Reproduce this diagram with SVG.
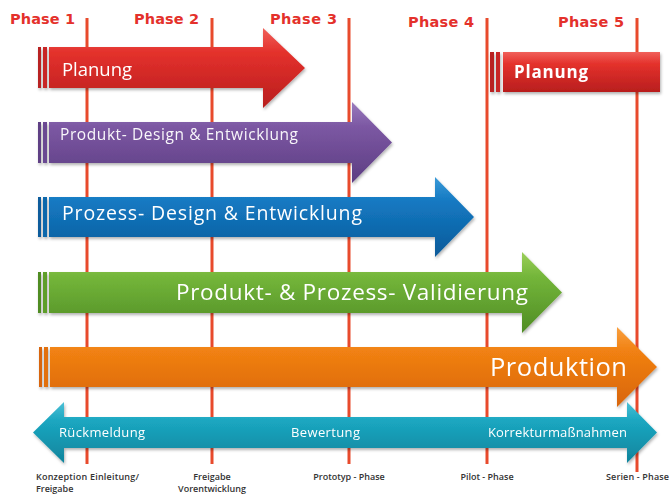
<svg xmlns="http://www.w3.org/2000/svg" width="669" height="494" viewBox="0 0 669 494">
<defs>
<linearGradient id="gRed" x1="0" y1="0" x2="0" y2="1"><stop offset="0" stop-color="#f0605a"/><stop offset="0.3" stop-color="#e4312c"/><stop offset="1" stop-color="#b81e1e"/></linearGradient>
<linearGradient id="gPur" x1="0" y1="0" x2="0" y2="1"><stop offset="0" stop-color="#9a7bbd"/><stop offset="0.3" stop-color="#7c58a3"/><stop offset="1" stop-color="#5c3c82"/></linearGradient>
<linearGradient id="gBlu" x1="0" y1="0" x2="0" y2="1"><stop offset="0" stop-color="#3a9ad8"/><stop offset="0.3" stop-color="#1479c2"/><stop offset="1" stop-color="#0b5a99"/></linearGradient>
<linearGradient id="gGrn" x1="0" y1="0" x2="0" y2="1"><stop offset="0" stop-color="#9ccf5a"/><stop offset="0.3" stop-color="#74b63a"/><stop offset="1" stop-color="#4f8c24"/></linearGradient>
<linearGradient id="gOrg" x1="0" y1="0" x2="0" y2="1"><stop offset="0" stop-color="#f9a040"/><stop offset="0.3" stop-color="#f18112"/><stop offset="1" stop-color="#d8650a"/></linearGradient>
<linearGradient id="gCya" x1="0" y1="0" x2="0" y2="1"><stop offset="0" stop-color="#4cc0d6"/><stop offset="0.3" stop-color="#1ba7c1"/><stop offset="1" stop-color="#0f849c"/></linearGradient>
<filter id="sh" x="-5%" y="-20%" width="110%" height="150%"><feDropShadow dx="1" dy="2" stdDeviation="1.5" flood-color="#000" flood-opacity="0.3"/></filter>
</defs>
<style>
.ph{font-family:"DejaVu Sans",Verdana,sans-serif;font-weight:bold;font-size:14.5px;fill:#e4312b}
.vl{stroke:#e84a2c;stroke-width:3}
.lbl{font-family:"Open Sans","Noto Sans",sans-serif;fill:#ffffff}
.bot{font-family:"Open Sans","Liberation Sans",sans-serif;font-weight:600;font-size:9px;fill:#333}
</style>
<rect width="669" height="494" fill="#ffffff"/>
<g id="phases">
<text class="ph" x="10" y="24" textLength="65">Phase 1</text>
<text class="ph" x="134" y="24" textLength="65">Phase 2</text>
<text class="ph" x="270" y="24" textLength="67">Phase 3</text>
<text class="ph" x="408" y="27" textLength="66">Phase 4</text>
<text class="ph" x="558" y="27" textLength="66">Phase 5</text>
</g>
<g id="lines">
<line class="vl" x1="87" y1="18" x2="87" y2="464"/>
<line class="vl" x1="212" y1="18" x2="212" y2="464"/>
<line class="vl" x1="349" y1="18" x2="349" y2="464"/>
<line class="vl" x1="487" y1="18" x2="487" y2="464"/>
<line class="vl" x1="637" y1="18" x2="637" y2="472"/>
</g>
<g id="planung1" filter="url(#sh)">
<rect x="38" y="47" width="3" height="41" fill="#b82222"/>
<rect x="43" y="47" width="4" height="41" fill="#c82828"/>
<path d="M49,47 H263 V28 L305,68 L263,108 V88 H49 Z" fill="url(#gRed)"/>
<text class="lbl" x="62" y="76" font-size="18.5" textLength="70">Planung</text>
</g>
<g id="planung2" filter="url(#sh)">
<rect x="490" y="52" width="4" height="40" fill="#b82222"/>
<rect x="496" y="52" width="4" height="40" fill="#c82828"/>
<path d="M503,52 H660 V92 H503 Z" fill="url(#gRed)"/>
<text class="lbl" x="514" y="78" font-size="17" font-weight="bold" textLength="74">Planung</text>
</g>
<g id="produkt-design" filter="url(#sh)">
<rect x="38" y="122" width="3" height="41" fill="#5e3f85"/>
<rect x="43" y="122" width="4" height="41" fill="#6a4a92"/>
<path d="M49,122 H352 V102 L392,142.5 L352,183 V163 H49 Z" fill="url(#gPur)"/>
<text class="lbl" x="60" y="140" font-size="15.5" textLength="238" fill-opacity="0.95">Produkt- Design &amp; Entwicklung</text>
</g>
<g id="prozess-design" filter="url(#sh)">
<rect x="38" y="197" width="3" height="40" fill="#0c5c9c"/>
<rect x="43" y="197" width="4" height="40" fill="#1068ac"/>
<path d="M49,197 H435 V177 L474,217 L435,257 V237 H49 Z" fill="url(#gBlu)"/>
<text class="lbl" x="62" y="220" font-size="19.5" textLength="300">Prozess- Design &amp; Entwicklung</text>
</g>
<g id="validierung" filter="url(#sh)">
<rect x="38" y="272" width="3" height="41" fill="#4f8c24"/>
<rect x="43" y="272" width="4" height="41" fill="#5e9e2c"/>
<path d="M49,272 H522 V252 L562,292.5 L522,333 V313 H49 Z" fill="url(#gGrn)"/>
<text class="lbl" x="176" y="300" font-size="22.5" textLength="352">Produkt- &amp; Prozess- Validierung</text>
</g>
<g id="produktion" filter="url(#sh)">
<rect x="39" y="347" width="3" height="40" fill="#d8650a"/>
<rect x="44" y="347" width="4" height="40" fill="#e2700c"/>
<path d="M50,347 H617 V327 L657,367 L617,407 V387 H50 Z" fill="url(#gOrg)"/>
<text class="lbl" x="490" y="376" font-size="25.5" textLength="137">Produktion</text>
</g>
<g id="feedback" filter="url(#sh)">
<path d="M33,432.5 L64,402 V417 H627 V402 L657,432.5 L627,463 V448 H64 V463 Z" fill="url(#gCya)"/>
<text class="lbl" x="59" y="437" font-size="13" textLength="86">Rückmeldung</text>
<text class="lbl" x="291" y="437" font-size="13" textLength="69">Bewertung</text>
<text class="lbl" x="488" y="437" font-size="13" textLength="139">Korrekturmaßnahmen</text>
</g>
<g id="milestones">
<text class="bot" x="36" y="480" textLength="103">Konzeption Einleitung/</text>
<text class="bot" x="36" y="492">Freigabe</text>
<text class="bot" x="212" y="480" text-anchor="middle">Freigabe</text>
<text class="bot" x="212" y="492" text-anchor="middle">Vorentwicklung</text>
<text class="bot" x="349" y="480" text-anchor="middle">Prototyp - Phase</text>
<text class="bot" x="487" y="480" text-anchor="middle">Pilot - Phase</text>
<text class="bot" x="606" y="480" textLength="63">Serien - Phase</text>
</g>
</svg>
